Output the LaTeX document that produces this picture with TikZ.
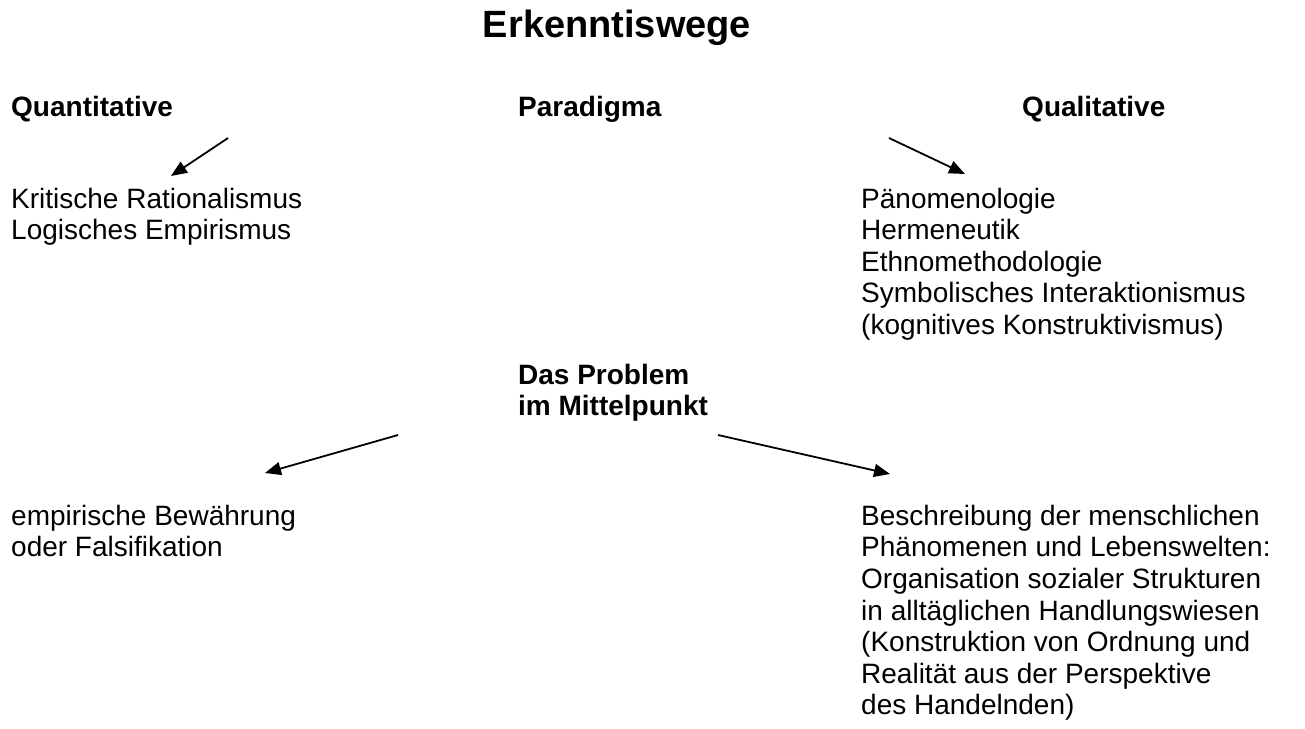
\documentclass[tikz,border=0pt]{standalone}
\usepackage{fontspec}
\setmainfont{Liberation Sans}
\usetikzlibrary{arrows.meta}
\tikzset{
  txt/.style={anchor=north west, inner sep=0pt, align=left, font=\fontsize{28}{31.5}\selectfont},
  hdr/.style={anchor=north west, inner sep=0pt, align=left, font=\fontsize{28}{31.5}\selectfont\bfseries},
  ttl/.style={anchor=north, inner sep=0pt, font=\fontsize{38}{42}\selectfont\bfseries},
  arr/.style={line width=1.8pt, -{Triangle[length=16pt,width=13pt]}}
}
\begin{document}
\begin{tikzpicture}[x=1pt,y=-1pt]
\useasboundingbox[fill=white] (0,0) rectangle (1305,728);
\node[ttl] (title) at (617,10) {Erkenntiswege};
\node[hdr] (quant) at (11,96) {Quantitative};
\node[hdr] (para) at (518,96) {Paradigma};
\node[hdr] (qual) at (1022,96) {Qualitative};
\node[txt] (krit) at (11,188) {Kritische Rationalismus\\Logisches Empirismus};
\node[txt] (phaen) at (861,188) {Pänomenologie\\Hermeneutik\\Ethnomethodologie\\Symbolisches Interaktionismus\\(kognitives Konstruktivismus)};
\node[hdr] (prob) at (518,364) {Das Problem\\im Mittelpunkt};
\node[txt] (emp) at (11,505) {empirische Bewährung\\oder Falsifikation};
\node[txt] (beschr) at (861,505) {Beschreibung der menschlichen\\Phänomenen und Lebenswelten:\\Organisation sozialer Strukturen\\in alltäglichen Handlungswiesen\\(Konstruktion von Ordnung und\\Realität aus der Perspektive\\des Handelnden)};
\coordinate (a1s) at (228,138);
\coordinate (a1e) at (171,176);
\coordinate (a2s) at (889,138);
\coordinate (a2e) at (965,174);
\coordinate (a3s) at (398,435);
\coordinate (a3e) at (265,473);
\coordinate (a4s) at (718,435);
\coordinate (a4e) at (890,474);
\draw[arr] (a1s) -- (a1e);
\draw[arr] (a2s) -- (a2e);
\draw[arr] (a3s) -- (a3e);
\draw[arr] (a4s) -- (a4e);
\end{tikzpicture}
\end{document}
